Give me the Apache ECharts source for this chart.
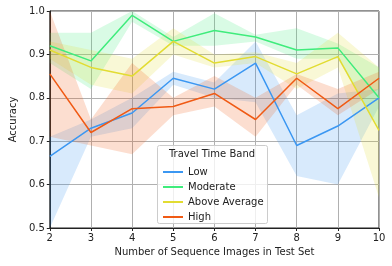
<!DOCTYPE html>
<html><head><meta charset="utf-8">
<script src="https://cdn.jsdelivr.net/npm/echarts@6/dist/echarts.min.js"></script>
<style>html,body{margin:0;padding:0;background:#fff}#c{width:392px;height:266px}</style>
</head><body><div id="c"></div>
<script>
const xs = ['2','3','4','5','6','7','8','9','10'];
const names = ['Low','Moderate','Above Average','High'];
const colors = ['#3b97f2','#3fec7c','#e2dc32','#f05a14'];
const lowMean  = [0.665,0.730,0.765,0.845,0.820,0.880,0.690,0.735,0.800];
const lowUp    = [0.710,0.750,0.800,0.860,0.835,0.930,0.760,0.810,0.820];
const lowLo    = [0.500,0.710,0.730,0.830,0.800,0.790,0.620,0.600,0.780];
const modMean  = [0.920,0.885,0.990,0.930,0.955,0.940,0.910,0.915,0.800];
const modUp    = [0.950,0.950,1.000,0.940,0.995,0.945,0.960,0.925,0.870];
const modLo    = [0.880,0.820,0.975,0.920,0.920,0.930,0.890,0.890,0.730];
const aaMean   = [0.910,0.870,0.850,0.930,0.880,0.895,0.855,0.895,0.725];
const aaUp     = [0.930,0.910,0.890,0.960,0.900,0.905,0.880,0.950,0.870];
const aaLo     = [0.890,0.830,0.810,0.900,0.870,0.880,0.820,0.870,0.570];
const hiMean   = [0.855,0.720,0.775,0.780,0.810,0.750,0.845,0.775,0.845];
const hiUp     = [1.000,0.750,0.880,0.800,0.850,0.800,0.855,0.820,0.860];
const hiLo     = [0.710,0.690,0.670,0.760,0.780,0.710,0.830,0.760,0.820];
const yTicks = [0.5,0.6,0.7,0.8,0.9,1.0];

const groups = [[lowMean,lowUp,lowLo],[modMean,modUp,modLo],[aaMean,aaUp,aaLo],[hiMean,hiUp,hiLo]];
const series = [];
groups.forEach((g,i)=>{
  const [m,u,l] = g;
  series.push({type:'line',stack:'b'+i,data:l.slice(),symbol:'none',lineStyle:{opacity:0},silent:true,z:1});
  series.push({type:'line',stack:'b'+i,data:u.map((v,k)=>+(v-l[k]).toFixed(4)),symbol:'none',lineStyle:{opacity:0},areaStyle:{color:colors[i],opacity:0.2},silent:true,z:1});
});
groups.forEach((g,i)=>{
  series.push({name:names[i],type:'line',data:g[0].slice(),symbol:'none',lineStyle:{color:colors[i],width:1.5},itemStyle:{color:colors[i]},z:3});
});
const chart = echarts.init(document.getElementById('c'),null,{renderer:'canvas'});
const font = 'DejaVu Sans';
chart.setOption({
  animation:false,
  grid:{left:44,right:13,top:11,bottom:38,show:true,borderColor:'#222',borderWidth:1,backgroundColor:'transparent'},
  xAxis:{type:'category',data:xs,boundaryGap:false,
    name:'Number of Sequence Images in Test Set',nameLocation:'middle',nameGap:19,
    nameTextStyle:{fontFamily:font,fontSize:10,color:'#222'},
    axisLine:{lineStyle:{color:'#222'}},axisTick:{length:3,lineStyle:{color:'#222'}},
    axisLabel:{fontFamily:font,fontSize:10,color:'#222',margin:5},
    splitLine:{show:true,lineStyle:{color:'#b0b0b0',width:1}}},
  yAxis:{type:'value',min:0.5,max:1.0,interval:0.1,
    name:'Accuracy',nameLocation:'middle',nameGap:30,
    nameTextStyle:{fontFamily:font,fontSize:10,color:'#222'},
    axisLine:{show:true,lineStyle:{color:'#222'}},axisTick:{show:true,length:3,lineStyle:{color:'#222'}},
    axisLabel:{fontFamily:font,fontSize:10,color:'#222',margin:5,formatter:v=>v.toFixed(1)},
    splitLine:{lineStyle:{color:'#b0b0b0',width:1}}},
  legend:{data:names.map((n,i)=>({name:n,itemStyle:{color:colors[i]}})),orient:'vertical',left:158,top:162,
    icon:'rect',itemWidth:20,itemHeight:2,itemGap:5,z:60,
    textStyle:{fontFamily:font,fontSize:10,color:'#222'}},
  graphic:[
    {type:'rect',shape:{x:157.5,y:145.5,width:110,height:78,r:2},style:{fill:'rgba(255,255,255,0.8)',stroke:'#ccc',lineWidth:1},z:50},
    {type:'text',x:212,y:149,style:{text:'Travel Time Band',fontFamily:font,fontSize:10,fill:'#222',align:'center'},z:60}
  ],
  series:series
});
</script></body></html>
